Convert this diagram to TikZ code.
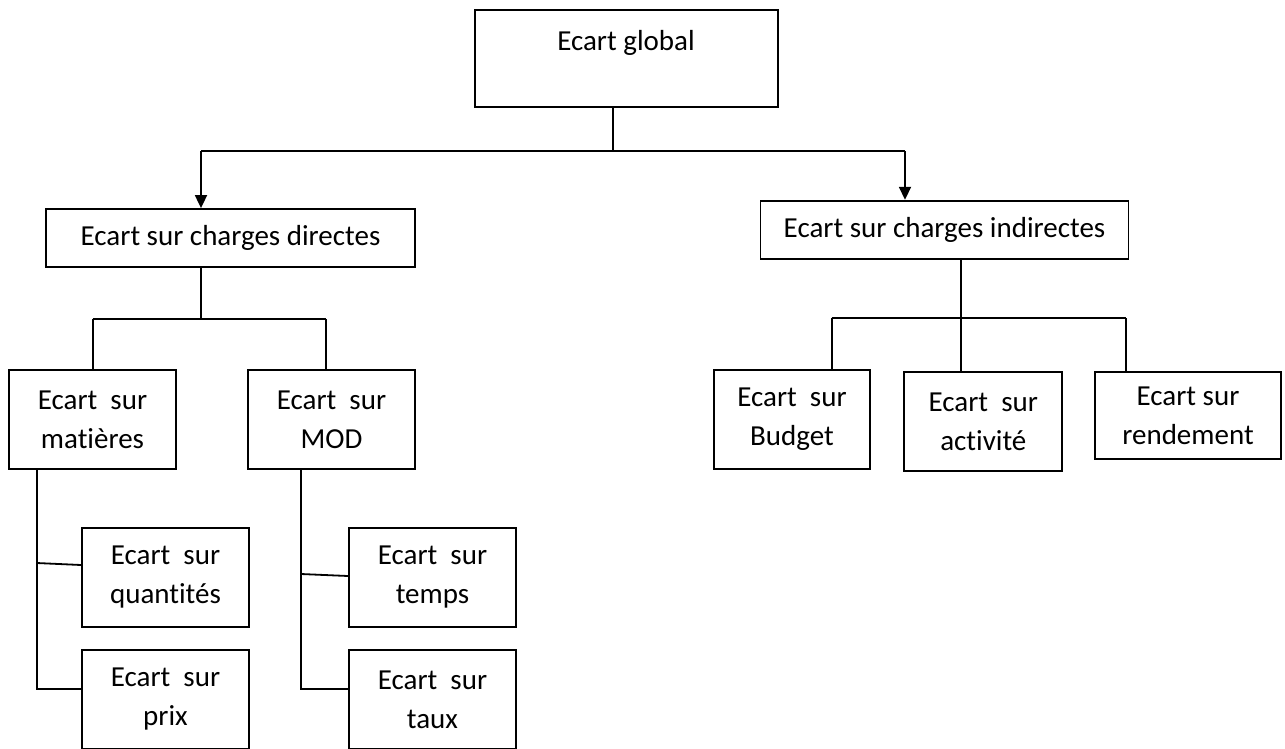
\documentclass[tikz,border=0pt]{standalone}
\usepackage{fontspec}
\setmainfont{Carlito}[Ligatures={NoCommon}]
\usetikzlibrary{arrows.meta}
\begin{document}
\begin{tikzpicture}[x=1pt,y=-1pt,
  txt/.style={font=\fontsize{29}{39}\selectfont},
  box/.style={draw, line width=1.8pt, inner sep=0pt, align=center, txt},
  conn/.style={line width=1.8pt},
  arr/.style={conn, -{Triangle[width=12pt,length=13pt]}}]
\fill[white] (0,0) rectangle (1285,748);
\clip (0,0) rectangle (1285,748);
% boxes
\node[box, minimum width=303pt, minimum height=97pt] (g) at (626.2,58.5) {};
\node[txt, anchor=base] (gt) at (626,50) {Ecart global};
\node[box, minimum width=369pt, minimum height=58pt] (d) at (230.5,238) {Ecart sur charges directes};
\node[box, minimum width=368pt, minimum height=58pt] (i) at (944.5,229.7) {Ecart sur charges indirectes};
\node[box, minimum width=167pt, minimum height=99pt] (mat) at (92.5,419.5) {Ecart~~sur\\matières};
\node[box, minimum width=167pt, minimum height=99pt] (mod) at (331.5,419.5) {Ecart~~sur\\MOD};
\node[box, minimum width=167pt, minimum height=99pt] (qua) at (165.5,577.5) {Ecart~~sur\\quantités};
\node[box, minimum width=167pt, minimum height=99pt] (prix) at (165.5,699.5) {Ecart~~sur\\prix};
\node[box, minimum width=167pt, minimum height=99pt] (temps) at (432.5,577.5) {Ecart~~sur\\temps};
\node[box, minimum width=167pt, minimum height=99pt] (taux) at (432.5,699.5) {Ecart~~sur\\taux};
\node[box, minimum width=156pt, minimum height=99pt] (bud) at (792,419.5) {Ecart~~sur\\Budget};
\node[box, minimum width=158pt, minimum height=99pt] (act) at (983.3,421.3) {Ecart~~sur\\activité};
\node[box, minimum width=186pt, minimum height=87pt] (ren) at (1188,415.5) {Ecart sur\\rendement};
% top level
\coordinate (j0) at (612.7,151);
\coordinate (jL) at (201,151);
\coordinate (jR) at (905,151);
\draw[conn] (g.south -| j0) -- (j0);
\draw[conn] (jL) -- (jR);
\draw[arr] (jL) -- (d.north -| jL);
\draw[arr] (jR) -- (i.north -| jR);
% directes
\coordinate (dj) at (201,319);
\coordinate (dl) at (92.7,319);
\coordinate (dr) at (326,319);
\draw[conn] (d.south -| dj) -- (dj);
\draw[conn] (dl) -- (dr);
\draw[conn] (dl) -- (mat.north -| dl);
\draw[conn] (dr) -- (mod.north -| dr);
% matieres
\coordinate (mt) at (36.7,689);
\coordinate (mq) at (36.7,563);
\draw[conn] (mat.south -| mt) -- (mt) -- (prix.west |- mt);
\draw[conn] (mq) -- ([yshift=12.5pt]qua.west);
% MOD
\coordinate (mo) at (301,689);
\coordinate (mm) at (301,574);
\draw[conn] (mod.south -| mo) -- (mo) -- (taux.west |- mo);
\draw[conn] (mm) -- ([yshift=1.5pt]temps.west);
% indirectes
\coordinate (ij) at (961,318);
\coordinate (il) at (831.7,318);
\coordinate (ir) at (1126,318);
\draw[conn] (i.south -| ij) -- (act.north -| ij);
\draw[conn] (il) -- (ir);
\draw[conn] (il) -- (bud.north -| il);
\draw[conn] (ir) -- (ren.north -| ir);
\end{tikzpicture}
\end{document}
